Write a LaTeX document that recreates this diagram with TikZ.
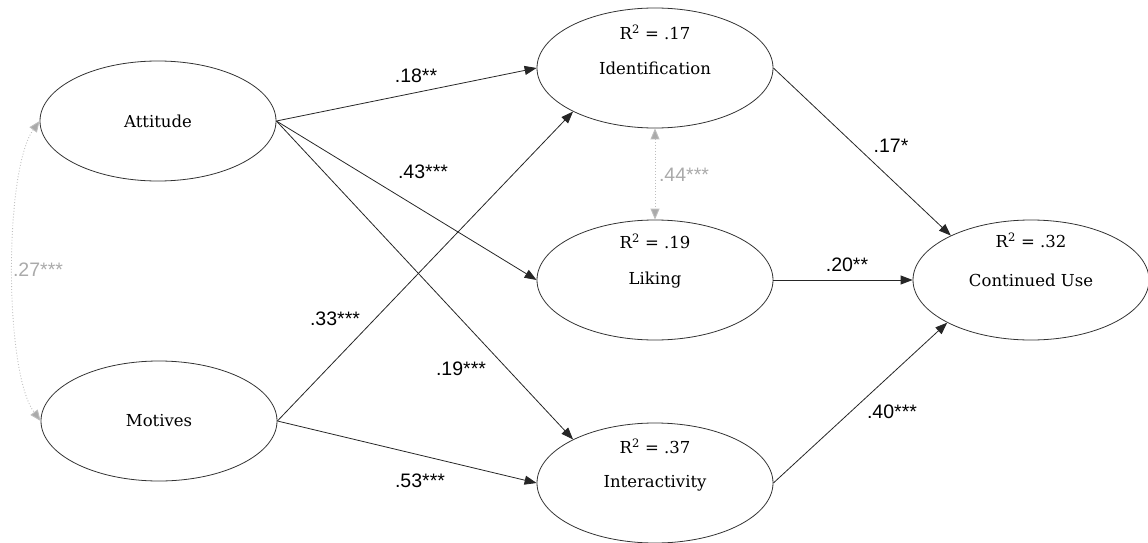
\documentclass[tikz,border=0pt]{standalone}
\usepackage{fontspec}
\setmainfont{DejaVu Serif}
\newfontfamily\labelfont{Liberation Sans}
\usetikzlibrary{shapes.geometric,arrows.meta}
\definecolor{corrgray}{RGB}{170,170,170}
\definecolor{corrline}{RGB}{190,190,190}
\begin{document}
\begin{tikzpicture}[x=1pt,y=-1pt,
  construct/.style={ellipse,draw=black!80,line width=0.8pt,minimum width=236pt,minimum height=120pt,inner sep=0pt,font=\fontsize{16.5}{18}\selectfont},
  rsq/.style={font=\fontsize{16.5}{18}\selectfont,inner sep=0pt},
  path/.style={draw=black!85,line width=0.8pt,-{Triangle[length=12pt,width=9pt]}},
  corr/.style={draw=corrline,line width=0.9pt,dotted,{Triangle[length=11pt,width=9pt,fill=corrgray]}-{Triangle[length=11pt,width=9pt,fill=corrgray]}},
  coef/.style={font=\labelfont\fontsize{19.5}{21}\selectfont,inner sep=0pt},
  corrcoef/.style={coef,text=corrgray}]
\useasboundingbox (0,0) rectangle (1148,543);

% latent constructs
\node[construct] (att) at (158,121) {Attitude};
\node[construct] (mot) at (159,421) {Motives};
\node[construct] (idf) at (655,68) {Identification};
\node[construct] (lik) at (655,280) {Liking};
\node[construct] (int) at (655,483) {Interactivity};
\node[construct] (cont) at (1031,280) {Continued Use};

% explained variance
\node[rsq] (r1) at (655,32) {R\textsuperscript{2} = .17};
\node[rsq] (r2) at (655,241) {R\textsuperscript{2} = .19};
\node[rsq] (r3) at (655,446) {R\textsuperscript{2} = .37};
\node[rsq] (r4) at (1031,240) {R\textsuperscript{2} = .32};

% structural paths
\draw[path] (att.east) -- (idf.west);
\draw[path] (att.east) -- (lik.west);
\draw[path] (att.east) -- (int.152);
\draw[path] (mot.east) -- (idf.208);
\draw[path] (mot.east) -- (int.west);
\draw[path] (idf.east) -- (cont.151);
\draw[path] (lik.east) -- (cont.west);
\draw[path] (int.east) -- (cont.207);

% correlations
\draw[corr] (idf.south) -- (lik.north);
\draw[corr] (att.west) .. controls (4,170) and (4,372) .. (mot.west);

% coefficients
\node[coef] (c1) at (416,76) {.18**};
\node[coef] (c2) at (423,172) {.43***};
\node[coef] (c3) at (335,319) {.33***};
\node[coef] (c4) at (461,369) {.19***};
\node[coef] (c5) at (420,481) {.53***};
\node[coef] (c6) at (891,146) {.17*};
\node[coef] (c7) at (847,265) {.20**};
\node[coef] (c8) at (892,412) {.40***};
\node[corrcoef] (c9) at (684,175) {.44***};
\node[corrcoef] (c10) at (38,270) {.27***};
\end{tikzpicture}
\end{document}
